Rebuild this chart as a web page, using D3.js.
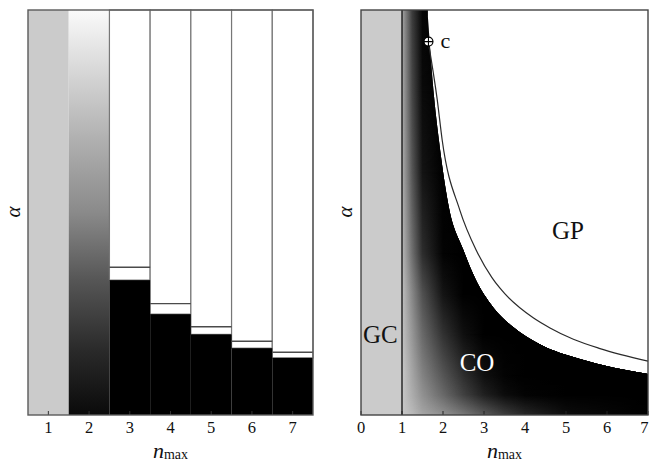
<!DOCTYPE html>
<html>
<head>
<meta charset="utf-8">
<script src="https://cdn.jsdelivr.net/npm/d3@7"></script>
<style>
  body { margin: 0; background: #fff; }
  svg { display: block; }
  text { font-family: "Liberation Serif", "Times New Roman", serif; fill: #111; }
</style>
</head>
<body>
<svg id="chart"></svg>
<script>
const chartSize = { width: 649, height: 464 };

// ---- left panel data (integer n_max) ----
const leftTicks = [1, 2, 3, 4, 5, 6, 7];
const stepCols = [3, 4, 5, 6, 7];
const stepBlackTop = [0.333, 0.249, 0.199, 0.165, 0.141];
const stepLine = [0.365, 0.275, 0.218, 0.182, 0.155];
const col2Alpha = [1, 0.68, 0.5, 0.33, 0.16, 0];
const col2Gray = [250, 176, 138, 85, 42, 10];

// ---- right panel data (continuous n_max) ----
const rightTicks = [0, 1, 2, 3, 4, 5, 6, 7];
const boundaryN = [1.62, 1.79, 1.9, 2.13, 2.5, 2.78, 3.23, 3.71, 4.37, 5.34, 7.0];
const boundaryAlpha = [1.0, 0.778, 0.679, 0.52, 0.407, 0.338, 0.265, 0.217, 0.174, 0.138, 0.101];
const upperN = [1.64, 1.86, 1.98, 2.41, 2.82, 3.19, 3.39, 4.2, 4.61, 5.18, 5.83, 7.0];
const upperAlpha = [0.922, 0.778, 0.679, 0.506, 0.405, 0.34, 0.313, 0.24, 0.215, 0.187, 0.164, 0.133];
const shadeN = [1, 1.25, 1.5, 2, 2.5, 3, 3.5, 4, 5, 7];
const shadeAlpha = [1.0, 0.8, 0.6, 0.4, 0.3, 0.2, 0.1, 0.05, 0];
const shadeGray = [
  [165, 60, 5, 0, 0, 0, 0, 0, 0, 0],
  [170, 70, 10, 0, 0, 0, 0, 0, 0, 0],
  [175, 85, 20, 0, 0, 0, 0, 0, 0, 0],
  [185, 110, 45, 3, 0, 0, 0, 0, 0, 0],
  [192, 135, 80, 20, 0, 0, 0, 0, 0, 0],
  [195, 150, 105, 50, 15, 0, 0, 0, 0, 0],
  [200, 165, 130, 85, 45, 15, 3, 0, 0, 0],
  [200, 172, 145, 105, 65, 32, 12, 3, 0, 0],
  [200, 185, 165, 145, 120, 90, 62, 40, 12, 0]
];
const critical = { n: 1.645, alpha: 0.922, label: "c" };
const regionLabels = [
  { text: "GP", n: 5.05, alpha: 0.455, color: "#111" },
  { text: "GC", n: 0.47, alpha: 0.2, color: "#111" },
  { text: "CO", n: 2.83, alpha: 0.13, color: "#fff" }
];

const lightGray = "#cbcbcb";
const grayOf = v => d3.rgb(v, v, v).toString();

const svg = d3.select("#chart")
  .attr("width", chartSize.width)
  .attr("height", chartSize.height);
const defs = svg.append("defs");

const yTop = 10, yBottom = 415;
const y = d3.scaleLinear().domain([0, 1]).range([yBottom, yTop]);

const addAxisText = (cx, cy) => {
  const t = svg.append("text")
    .attr("x", cx).attr("y", 458)
    .attr("text-anchor", "middle");
  t.append("tspan").attr("font-style", "italic").attr("font-size", 22).text("n");
  t.append("tspan").attr("font-size", 14).attr("dy", 1).text("max");
  svg.append("text")
    .attr("transform", `translate(${cy},212) rotate(-90)`)
    .attr("text-anchor", "middle")
    .attr("dominant-baseline", "central")
    .attr("font-style", "italic")
    .attr("font-size", 21)
    .text("α");
};

// ================= left panel =================
const drawLeft = () => {
  const x = d3.scaleLinear().domain([0.5, 7.5]).range([28, 313]);
  const g = svg.append("g").attr("class", "left");
  const w = x(1.5) - x(0.5);

  g.append("rect")
    .attr("x", x(0.5)).attr("y", y(1))
    .attr("width", w).attr("height", y(0) - y(1))
    .attr("fill", lightGray);

  const grad = defs.append("linearGradient")
    .attr("id", "col2grad")
    .attr("gradientUnits", "userSpaceOnUse")
    .attr("x1", 0).attr("x2", 0)
    .attr("y1", y(1)).attr("y2", y(0));
  grad.selectAll("stop")
    .data(col2Alpha)
    .enter()
    .append("stop")
    .attr("offset", a => 1 - a)
    .attr("stop-color", (a, i) => grayOf(col2Gray[i]));
  g.append("rect")
    .attr("x", x(1.5)).attr("y", y(1))
    .attr("width", w).attr("height", y(0) - y(1))
    .attr("fill", "url(#col2grad)");

  const steps = stepCols.map((n, i) => ({ n, black: stepBlackTop[i], line: stepLine[i] }));
  g.selectAll(".white")
    .data(steps)
    .enter()
    .append("rect")
    .attr("x", d => x(d.n - 0.5)).attr("y", y(1))
    .attr("width", w).attr("height", d => y(d.black) - y(1))
    .attr("fill", "#fff")
    .attr("stroke", "#777")
    .attr("stroke-width", 1.2);
  g.selectAll(".black")
    .data(steps)
    .enter()
    .append("rect")
    .attr("x", d => x(d.n - 0.5)).attr("y", d => y(d.black))
    .attr("width", w).attr("height", d => y(0) - y(d.black))
    .attr("fill", "#000");
  g.selectAll(".step-line")
    .data(steps)
    .enter()
    .append("line")
    .attr("x1", d => x(d.n - 0.5)).attr("x2", d => x(d.n + 0.5))
    .attr("y1", d => y(d.line)).attr("y2", d => y(d.line))
    .attr("stroke", "#4a4a4a")
    .attr("stroke-width", 1.4);

  g.selectAll(".tick")
    .data(leftTicks)
    .enter()
    .append("line")
    .attr("x1", x).attr("x2", x)
    .attr("y1", yBottom).attr("y2", yBottom - 4)
    .attr("stroke", "#333");

  g.append("rect")
    .attr("x", x(0.5)).attr("y", yTop)
    .attr("width", x(7.5) - x(0.5)).attr("height", yBottom - yTop)
    .attr("fill", "none")
    .attr("stroke", "#5a5a5a")
    .attr("stroke-width", 1.4);

  g.selectAll(".tick-label")
    .data(leftTicks)
    .enter()
    .append("text")
    .attr("x", x).attr("y", 433)
    .attr("text-anchor", "middle")
    .attr("font-size", 16.5)
    .text(d => d);

  addAxisText((x(0.5) + x(7.5)) / 2, 13);
};

// ================= right panel =================
const drawRight = () => {
  const x = d3.scaleLinear().domain([0, 7]).range([361, 648]);
  const g = svg.append("g").attr("class", "right");

  g.append("rect")
    .attr("x", x(0)).attr("y", y(1))
    .attr("width", x(1) - x(0)).attr("height", y(0) - y(1))
    .attr("fill", lightGray);

  // clip: area below the black boundary, right of n = 1
  const boundary = boundaryN.map((n, i) => ({ n, a: boundaryAlpha[i] }));
  const clip = defs.append("clipPath").attr("id", "coClip");
  clip.append("rect")
    .attr("x", x(1)).attr("y", y(1))
    .attr("width", x(boundaryN[0]) - x(1) + 0.5)
    .attr("height", y(0) - y(1));
  const area = d3.area()
    .x(d => x(d.n))
    .y0(y(0))
    .y1(d => y(d.a))
    .curve(d3.curveMonotoneX);
  clip.append("path").attr("d", area(boundary));

  // shading: one horizontal gradient per alpha row; each row fades in
  // over the row above it through a vertical mask
  const shadeG = g.append("g").attr("clip-path", "url(#coClip)");
  const x0 = x(1), x1 = x(7);
  shadeAlpha.forEach((a, i) => {
    const grad = defs.append("linearGradient")
      .attr("id", `shade${i}`)
      .attr("gradientUnits", "userSpaceOnUse")
      .attr("x1", x0).attr("x2", x1)
      .attr("y1", 0).attr("y2", 0);
    grad.selectAll("stop")
      .data(shadeN)
      .enter()
      .append("stop")
      .attr("offset", n => (n - 1) / 6)
      .attr("stop-color", (n, j) => grayOf(shadeGray[i][j]));

    const rowTop = i === 0 ? 1.05 : shadeAlpha[i - 1];
    const row = shadeG.append("rect")
      .attr("x", x0 - 1).attr("y", y(rowTop))
      .attr("width", x1 - x0 + 2).attr("height", y(-0.05) - y(rowTop))
      .attr("fill", `url(#shade${i})`);

    if (i > 0) {
      const fade = defs.append("linearGradient")
        .attr("id", `fade${i}`)
        .attr("gradientUnits", "userSpaceOnUse")
        .attr("x1", 0).attr("x2", 0)
        .attr("y1", y(shadeAlpha[i - 1])).attr("y2", y(a));
      fade.append("stop").attr("offset", 0).attr("stop-color", "#000");
      fade.append("stop").attr("offset", 1).attr("stop-color", "#fff");
      const mask = defs.append("mask")
        .attr("id", `mask${i}`)
        .attr("maskUnits", "userSpaceOnUse")
        .attr("x", 0).attr("y", 0)
        .attr("width", chartSize.width).attr("height", chartSize.height);
      mask.append("rect")
        .attr("x", 0).attr("y", 0)
        .attr("width", chartSize.width).attr("height", chartSize.height)
        .attr("fill", `url(#fade${i})`);
      row.attr("mask", `url(#mask${i})`);
    }
  });

  const upper = upperN.map((n, i) => ({ n, a: upperAlpha[i] }));
  const line = d3.line()
    .x(d => x(d.n))
    .y(d => y(d.a))
    .curve(d3.curveMonotoneX);
  g.append("path")
    .attr("d", line(upper))
    .attr("fill", "none")
    .attr("stroke", "#2a2a2a")
    .attr("stroke-width", 1.2);

  g.append("line")
    .attr("x1", x(1)).attr("x2", x(1))
    .attr("y1", yTop).attr("y2", yBottom)
    .attr("stroke", "#000")
    .attr("stroke-width", 1.2);

  g.selectAll(".tick")
    .data(rightTicks)
    .enter()
    .append("line")
    .attr("x1", x).attr("x2", x)
    .attr("y1", yBottom).attr("y2", yBottom - 4)
    .attr("stroke", "#222");

  g.append("rect")
    .attr("x", x(0)).attr("y", yTop)
    .attr("width", x(7) - x(0)).attr("height", yBottom - yTop)
    .attr("fill", "none")
    .attr("stroke", "#444")
    .attr("stroke-width", 1.4);

  // critical point
  const cx = x(critical.n), cy = y(critical.alpha), r = 4.5;
  g.append("circle")
    .attr("cx", cx).attr("cy", cy).attr("r", r)
    .attr("fill", "#fff").attr("stroke", "#000").attr("stroke-width", 1.2);
  g.append("path")
    .attr("d", `M${cx - r},${cy}H${cx + r}M${cx},${cy - r}V${cy + r}`)
    .attr("stroke", "#000").attr("stroke-width", 1.1);
  g.append("text")
    .attr("x", cx + 12).attr("y", cy + 6)
    .attr("font-size", 22)
    .text(critical.label);

  g.selectAll(".region")
    .data(regionLabels)
    .enter()
    .append("text")
    .attr("x", d => x(d.n)).attr("y", d => y(d.alpha))
    .attr("text-anchor", "middle")
    .attr("dominant-baseline", "central")
    .attr("font-size", 25)
    .style("fill", d => d.color)
    .text(d => d.text);

  const last = rightTicks[rightTicks.length - 1];
  g.selectAll(".tick-label")
    .data(rightTicks)
    .enter()
    .append("text")
    .attr("x", d => d === last ? chartSize.width - 0.5 : x(d))
    .attr("y", 433)
    .attr("text-anchor", d => d === last ? "end" : "middle")
    .attr("font-size", 16.5)
    .text(d => d);

  addAxisText((x(0) + x(7)) / 2, 345);
};

drawLeft();
drawRight();
</script>
</body>
</html>
